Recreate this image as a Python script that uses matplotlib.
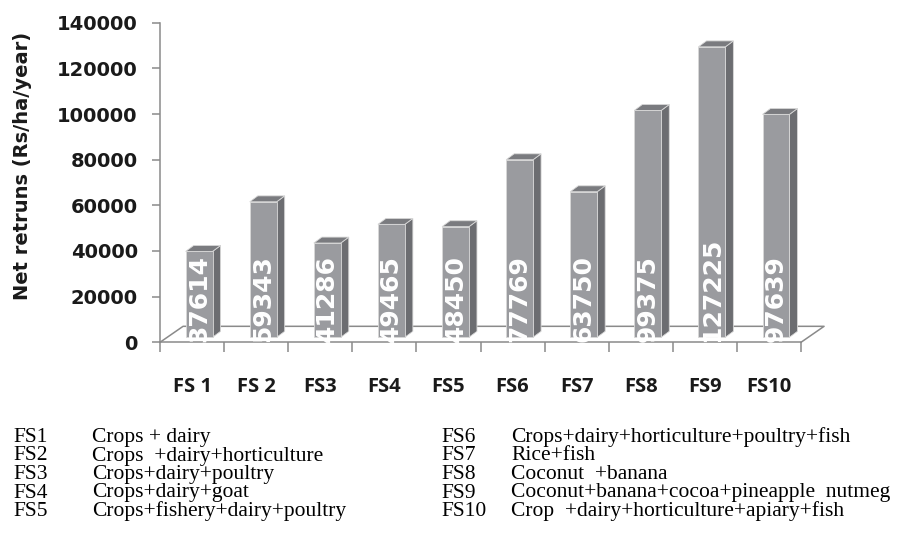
import matplotlib
matplotlib.use("Agg")
import matplotlib.pyplot as plt
import numpy as np

# data
systems = ["FS 1", "FS 2", "FS3", "FS4", "FS5", "FS6", "FS7", "FS8", "FS9", "FS10"]
net_returns = [37614, 59343, 41286, 49465, 48450, 77769, 63750, 99375, 127225, 97639]
y_ticks = [0, 20000, 40000, 60000, 80000, 100000, 120000, 140000]

codes_left = ["FS1", "FS2", "FS3", "FS4", "FS5"]
desc_left = ["Crops + dairy", "Crops  +dairy+horticulture", "Crops+dairy+poultry",
             "Crops+dairy+goat", "Crops+fishery+dairy+poultry"]
codes_right = ["FS6", "FS7", "FS8", "FS9", "FS10"]
desc_right = ["Crops+dairy+horticulture+poultry+fish", "Rice+fish", "Coconut  +banana",
              "Coconut+banana+cocoa+pineapple  nutmeg", "Crop  +dairy+horticulture+apiary+fish"]

W, H = 918, 548
fig = plt.figure(figsize=(W / 100, H / 100), dpi=100)
ax = fig.add_axes([160 / W, (H - 342.3) / H, 641 / W, 319.6 / H])
ax.set_xlim(-0.5, 9.5)
ax.set_ylim(0, 140000)

gray = "#8a8a8a"
# fake 3d: floor depth and bar depth (in data units)
floor_dx, floor_dy = 0.36, 7000
bar_dx, bar_dy = 0.125, 2600
bar_lift = 2200
bar_left, bar_w = -0.10, 0.42

# floor (back and side edges)
x0, x1 = -0.5, 9.5
ax.plot([x0, x0 + floor_dx, x1 + floor_dx, x1], [0, floor_dy, floor_dy, 0],
        color=gray, lw=1.1, clip_on=False, zorder=1)

front_c = "#9a9b9f"
side_c = "#6c6d71"
top_c = "#7a7b7f"
edge_c = "#d8d8d8"

for i, v in enumerate(net_returns):
    l = i + bar_left
    r = l + bar_w
    b = bar_lift
    t = v + bar_lift
    side = [(r, b), (r + bar_dx, b + bar_dy), (r + bar_dx, t + bar_dy), (r, t)]
    top = [(l, t), (l + bar_dx, t + bar_dy), (r + bar_dx, t + bar_dy), (r, t)]
    front = [(l, b), (r, b), (r, t), (l, t)]
    ax.add_patch(plt.Polygon(side, closed=True, fc=side_c, ec=edge_c, lw=0.6, zorder=2))
    ax.add_patch(plt.Polygon(top, closed=True, fc=top_c, ec=edge_c, lw=0.6, zorder=2))
    ax.add_patch(plt.Polygon(front, closed=True, fc=front_c, ec=edge_c, lw=0.6, zorder=2))
    ax.text((l + r) / 2, 0, str(v), rotation=90, ha="center", va="bottom",
            color="white", fontsize=18, fontweight="bold", family="DejaVu Sans", zorder=3)

for s in ["top", "right"]:
    ax.spines[s].set_visible(False)
for s in ["left", "bottom"]:
    ax.spines[s].set_color(gray)
    ax.spines[s].set_linewidth(1.1)

ax.set_yticks(y_ticks)
ax.set_yticklabels([str(t) for t in y_ticks], fontsize=14, fontweight="bold", color="#1a1a1a")
ax.tick_params(axis="y", length=6, width=1.1, color=gray, pad=10)

ax.set_xticks(np.arange(len(systems)))
ax.set_xticklabels(systems, fontsize=14.5, fontweight="bold", family="Open Sans", color="#1a1a1a")
ax.set_xticks(np.arange(len(systems) + 1) - 0.5, minor=True)
ax.tick_params(axis="x", which="major", length=0, pad=25)
ax.tick_params(axis="x", which="minor", length=7, width=1.1, color=gray)

fig.text(23 / W, 1 - 166 / H, "Net retruns (Rs/ha/year)", rotation=90, ha="center", va="center",
         fontsize=14, fontweight="bold", color="#1a1a1a")

# key below the chart
rows_y = [442, 460.5, 479, 497.5, 516]
for k in range(5):
    yy = 1 - rows_y[k] / H
    fig.text(13 / W, yy, codes_left[k], fontsize=15.5, family="Liberation Serif", va="baseline")
    fig.text(92 / W, yy, desc_left[k], fontsize=15.5, family="Liberation Serif", va="baseline")
    fig.text(441 / W, yy, codes_right[k], fontsize=15.5, family="Liberation Serif", va="baseline")
    fig.text(511 / W, yy, desc_right[k], fontsize=15.5, family="Liberation Serif", va="baseline")

fig.savefig("out.png", dpi=100)
